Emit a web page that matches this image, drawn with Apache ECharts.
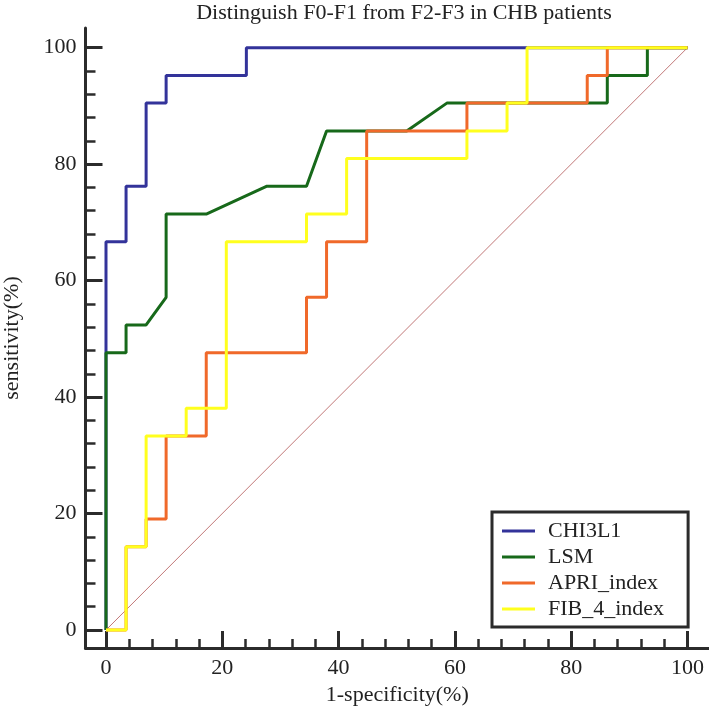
<!DOCTYPE html>
<html>
<head>
<meta charset="utf-8">
<script src="https://cdn.jsdelivr.net/npm/echarts@6/dist/echarts.min.js"></script>
<style>html,body{margin:0;padding:0;background:#fff}#c{width:709px;height:713px}</style>
</head>
<body>
<div id="c"></div>
<script>
const titleText = 'Distinguish F0-F1 from F2-F3 in CHB patients';
const xName = '1-specificity(%)';
const yName = 'sensitivity(%)';
const seriesNames = ['CHI3L1', 'LSM', 'APRI_index', 'FIB_4_index'];

const majorTicks = [0, 20, 40, 60, 80, 100];
const minorTicks = [4, 8, 12, 16, 24, 28, 32, 36, 44, 48, 52, 56, 64, 68, 72, 76, 84, 88, 92, 96];

const chiX = [0, 0, 3.45, 3.45, 6.9, 6.9, 10.34, 10.34, 24.14, 24.14, 100];
const chiY = [0, 66.67, 66.67, 76.19, 76.19, 90.48, 90.48, 95.24, 95.24, 100, 100];

const lsmX = [0, 0, 3.45, 3.45, 6.9, 10.34, 10.34, 17.24, 27.59, 34.48, 37.93, 51.72, 58.62, 86.21, 86.21, 93.1, 93.1, 100];
const lsmY = [0, 47.62, 47.62, 52.38, 52.38, 57.14, 71.43, 71.43, 76.19, 76.19, 85.71, 85.71, 90.48, 90.48, 95.24, 95.24, 100, 100];

const apriX = [0, 3.45, 3.45, 6.9, 6.9, 10.34, 10.34, 17.24, 17.24, 34.48, 34.48, 37.93, 37.93, 44.83, 44.83, 62.07, 62.07, 82.76, 82.76, 86.21, 86.21, 100];
const apriY = [0, 0, 14.29, 14.29, 19.05, 19.05, 33.33, 33.33, 47.62, 47.62, 57.14, 57.14, 66.67, 66.67, 85.71, 85.71, 90.48, 90.48, 95.24, 95.24, 100, 100];

const fibX = [0, 3.45, 3.45, 6.9, 6.9, 13.79, 13.79, 20.69, 20.69, 34.48, 34.48, 41.38, 41.38, 62.07, 62.07, 68.97, 68.97, 72.41, 72.41, 100];
const fibY = [0, 0, 14.29, 14.29, 33.33, 33.33, 38.1, 38.1, 66.67, 66.67, 71.43, 71.43, 80.95, 80.95, 85.71, 85.71, 90.48, 90.48, 100, 100];

const refX = [0, 100];
const refY = [0, 100];

const colors = ['#33339a', '#17691a', '#f0692a', '#ffff1e'];

function pairs(xs, ys) { return xs.map((x, i) => [x, ys[i]]); }

const FONT = "'Liberation Serif', 'Times New Roman', serif";
const AX = '#2b2b2b';
const TXT = '#222';

// axis extents chosen so the axis lines sit slightly outside the 0..100 data box
const X_MIN = -3.525, X_MAX = 103.7;
const Y_MIN = -3.09, Y_MAX = 103.38;

const chart = echarts.init(document.getElementById('c'), null, {renderer: 'canvas'});

const lineSeries = [[chiX, chiY], [lsmX, lsmY], [apriX, apriY], [fibX, fibY]].map((d, i) => ({
  name: seriesNames[i],
  type: 'line',
  xAxisIndex: 0, yAxisIndex: 0,
  data: pairs(d[0], d[1]),
  showSymbol: false,
  symbol: 'none',
  lineStyle: {color: colors[i], width: 3},
  itemStyle: {color: colors[i]},
  z: 3 + i
}));

function majorAxis(isX) {
  return {
    type: 'value', gridIndex: 0,
    min: isX ? X_MIN : Y_MIN, max: isX ? X_MAX : Y_MAX,
    position: isX ? 'bottom' : 'left',
    name: isX ? xName : yName, nameLocation: 'middle', nameGap: isX ? 36 : 62,
    nameTextStyle: {fontFamily: FONT, fontSize: 22, color: TXT},
    axisLine: {show: true, onZero: false, lineStyle: {color: AX, width: 3}},
    axisTick: {show: true, inside: true, length: 17, customValues: majorTicks, lineStyle: {color: AX, width: 3}},
    axisLabel: {fontFamily: FONT, fontSize: 22, color: TXT, margin: 9, customValues: majorTicks},
    splitLine: {show: false}
  };
}
function minorAxis(isX) {
  return {
    type: 'value', gridIndex: 0,
    min: isX ? X_MIN : Y_MIN, max: isX ? X_MAX : Y_MAX,
    position: isX ? 'bottom' : 'left',
    axisLine: {show: false, onZero: false},
    axisTick: {show: true, inside: true, length: isX ? 9 : 10, customValues: minorTicks, lineStyle: {color: AX, width: 2.5}},
    axisLabel: {show: false},
    splitLine: {show: false}
  };
}

chart.setOption({
  animation: false,
  backgroundColor: '#fff',
  title: {
    text: titleText,
    left: 402, top: 0, textAlign: 'center', padding: 2,
    textStyle: {fontFamily: FONT, fontSize: 22, fontWeight: 'normal', color: TXT}
  },
  grid: [
    {left: 85.5, right: 0, top: 28, bottom: 65, containLabel: false, outerBoundsMode: 'none'}
  ],
  legend: {
    data: seriesNames,
    orient: 'vertical',
    left: 492, top: 512,
    padding: [8, 24, 7, 10],
    itemGap: 4,
    itemWidth: 33, itemHeight: 3,
    icon: 'rect',
    borderColor: AX, borderWidth: 3,
    backgroundColor: '#fff',
    textStyle: {fontFamily: FONT, fontSize: 22, color: TXT, lineHeight: 22, padding: [0, 0, 0, 8]}
  },
  xAxis: [majorAxis(true), minorAxis(true)],
  yAxis: [majorAxis(false), minorAxis(false)],
  series: [
    {
      name: 'reference', type: 'line', xAxisIndex: 0, yAxisIndex: 0,
      data: pairs(refX, refY), showSymbol: false, symbol: 'none',
      lineStyle: {color: '#c27878', width: 1}, z: 2, silent: true
    }
  ].concat(lineSeries)
});
</script>
</body>
</html>
